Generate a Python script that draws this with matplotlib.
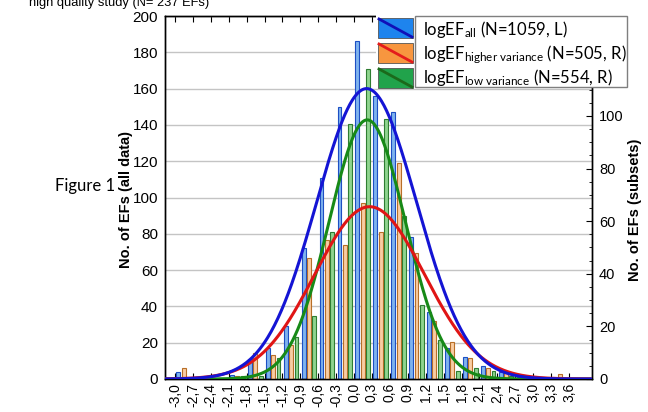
import numpy as np
import matplotlib
matplotlib.use("Agg")
import matplotlib.pyplot as plt
from matplotlib.patches import Rectangle
from matplotlib.lines import Line2D
from matplotlib.ticker import MultipleLocator

# ---------------- data ----------------
bin_left = [-3.0, -2.7, -2.4, -2.1, -1.8, -1.5, -1.2, -0.9, -0.6, -0.3, 0.0,
            0.3, 0.6, 0.9, 1.2, 1.5, 1.8, 2.1, 2.4, 2.7, 3.0, 3.3]
tick_values = [-3.0, -2.7, -2.4, -2.1, -1.8, -1.5, -1.2, -0.9, -0.6, -0.3, 0.0,
               0.3, 0.6, 0.9, 1.2, 1.5, 1.8, 2.1, 2.4, 2.7, 3.0, 3.3, 3.6]
tick_labels = ["-3,0", "-2,7", "-2,4", "-2,1", "-1,8", "-1,5", "-1,2", "-0,9",
               "-0,6", "-0,3", "0,0", "0,3", "0,6", "0,9", "1,2", "1,5", "1,8",
               "2,1", "2,4", "2,7", "3,0", "3,3", "3,6"]
count_all = [4, 0, 0, 2, 11, 17, 29, 72, 111, 150, 186, 156, 147, 78, 37, 17, 12, 7, 4, 1, 0, 1]
count_high = [4, 0, 0, 1, 10, 9, 13, 46, 53, 51, 67, 56, 82, 48, 22, 14, 8, 4, 3, 1, 0, 2]
count_low = [0, 0, 0, 1, 1, 8, 16, 24, 56, 97, 118, 99, 62, 28, 15, 3, 4, 3, 1, 0, 0, 0]

# fitted normal curves: (peak height, mean, sd)
fit_all = (160, 0.21, 0.84)      # left axis
fit_high = (65.5, 0.26, 0.92)    # right axis
fit_low = (98.5, 0.22, 0.64)     # right axis

legend_labels = [r"logEF$_{\mathrm{all}}$ (N=1059, L)",
                 r"logEF$_{\mathrm{higher\ variance}}$ (N=505, R)",
                 r"logEF$_{\mathrm{low\ variance}}$ (N=554, R)"]

# ---------------- style ----------------
plt.rcParams['font.family'] = ['Liberation Sans', 'DejaVu Sans']
plt.rcParams['mathtext.fontset'] = 'custom'
plt.rcParams['mathtext.rm'] = 'Lato'
plt.rcParams['mathtext.it'] = 'Lato:italic'
plt.rcParams['mathtext.bf'] = 'Lato:bold'

W, H = 648, 412
fig = plt.figure(figsize=(W / 100, H / 100), dpi=100)

def fx(px):
    return px / W

def fy(py):
    return 1 - py / H

ax = fig.add_axes([fx(165), fy(379), fx(592) - fx(165), fy(16) - fy(379)])
ax2 = ax.twinx()

xmin, xmax = -3.167, 3.985
bl = np.array(bin_left)
bw = 0.065

ax.bar(bl + 0.055, count_all, width=bw, color='#7fb3ee', edgecolor='#1d4fc4', linewidth=0.8, zorder=2)
ax2.bar(bl + 0.145, count_high, width=bw, color='#f9cda3', edgecolor='#b86f28', linewidth=0.8, zorder=2)
ax2.bar(bl + 0.235, count_low, width=bw, color='#8fd48f', edgecolor='#2e7d32', linewidth=0.8, zorder=2)

xs = np.linspace(xmin, xmax, 500)

def gauss(p):
    a, m, s = p
    return a * np.exp(-0.5 * ((xs - m) / s) ** 2)

ax2.plot(xs, gauss(fit_low), color='#178a17', lw=2.2, zorder=4)
ax2.plot(xs, gauss(fit_high), color='#e01515', lw=2.2, zorder=5)
ax2.plot(xs, gauss(fit_all), color='#1414d4', lw=2.2, zorder=6, transform=ax.transData)

ax.set_xlim(xmin, xmax)
ax.set_ylim(0, 200)
ax2.set_xlim(xmin, xmax)
ax2.set_ylim(0, 138)

ax.set_yticks(range(0, 201, 20))
ax.yaxis.grid(True, color='#c4c4c4', lw=1)
ax.set_axisbelow(True)
ax.tick_params(axis='y', direction='in', length=0, labelsize=11, pad=5)
ax.set_xticks(tick_values)
ax.set_xticklabels(tick_labels, rotation=90)
ax.tick_params(axis='x', direction='in', top=True, length=4, labelsize=10, pad=3)

ax2.set_yticks(range(0, 101, 20))
ax2.yaxis.set_minor_locator(MultipleLocator(5))
ax2.tick_params(axis='y', which='major', direction='in', length=4, labelsize=10.5, pad=5)
ax2.tick_params(axis='y', which='minor', direction='in', length=2)

for a in (ax, ax2):
    for sp in a.spines.values():
        sp.set_color('black')
        sp.set_linewidth(1)

# axis titles
fig.text(fx(126), fy(200), "No. of EFs (all data)", rotation=90, ha='center', va='center',
         fontsize=10.5, fontweight='bold')
fig.text(fx(635), fy(210), "No. of EFs (subsets)", rotation=90, ha='center', va='center',
         fontsize=10.5, fontweight='bold')
fig.text(fx(55), fy(186), "Figure 1", ha='left', va='center', fontsize=12, family='Lato')
fig.text(fx(29), fy(6), "high quality study (N= 237 EFs)", ha='left', va='baseline', fontsize=9.3)

# legend (custom, Statistica style)
fig.add_artist(Rectangle((fx(376), fy(88)), fx(627) - fx(376), fy(15) - fy(88),
                         transform=fig.transFigure, fc='white', ec='none', zorder=10))
fig.add_artist(Rectangle((fx(415), fy(87)), fx(627) - fx(415), fy(16) - fy(87),
                         transform=fig.transFigure, fc='none', ec='#7f7f7f', lw=1, zorder=12))
patch_fc = ['#1e84ee', '#f7963f', '#21a34b']
patch_lc = ['#1010b8', '#e41c1c', '#1b6a1b']
row_top = [18, 43, 68]
baselines = [35, 59, 83]
for i in range(3):
    t = row_top[i]
    fig.add_artist(Rectangle((fx(378), fy(t + 20)), fx(413) - fx(378), fy(t) - fy(t + 20),
                             transform=fig.transFigure, fc=patch_fc[i], ec='#555555', lw=0.6, zorder=11))
    fig.add_artist(Line2D([fx(379), fx(412)], [fy(t + 1), fy(t + 19)], transform=fig.transFigure,
                          color=patch_lc[i], lw=2, zorder=12))
    fig.text(fx(423), fy(baselines[i]), legend_labels[i], ha='left', va='baseline',
             fontsize=12, family='Lato', zorder=13)

fig.savefig("out.png", dpi=100)
